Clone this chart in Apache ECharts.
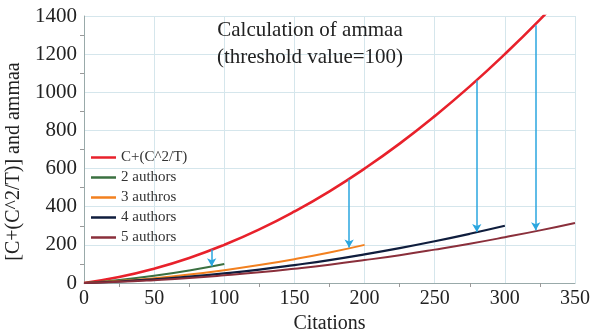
<!DOCTYPE html>
<html><head><meta charset="utf-8">
<script src="https://cdn.jsdelivr.net/npm/echarts@6/dist/echarts.min.js"></script>
<style>html,body{margin:0;padding:0;background:#fff}#c{width:591px;height:336px}</style>
</head><body><div id="c"></div>
<script>
const citations = [0,25,50,75,100,125,150,175,200,225,250,275,300,325,350];
const totalC = [0,31,75,131,200,281,375,481,600,731,875,1031,1200,1381,1575];
const authors2 = [0,16,38,66,100];
const authors3 = [0,10,25,44,67,94,125,160,200];
const authors4 = [0,8,19,33,50,70,94,120,150,183,219,258,300];
const authors5 = [0,6,15,26,40,56,75,96,120,146,175,206,240,276,315];
const seriesNames = ['C+(C^2/T)','2 authors','3 authros','4 authors','5 authors'];
const arrowX = [91,189,280,322];
const arrowFrom = [176,543,1062,1352];
const arrowTo = [88,186,268,276];
const xTicks = [0,50,100,150,200,250,300,350];
const yTicks = [0,200,400,600,800,1000,1200,1400];

const serif = '"Liberation Serif","DejaVu Serif",serif';
const colors = ['#e8212b','#3b7040','#f2801f','#0f1d3d','#8a2f3b'];
const widths = [2.6,2,2,2.2,2];
const sets = [totalC,authors2,authors3,authors4,authors5];

const series = sets.map((vals,i)=>({
  name: seriesNames[i], type:'line', symbol:'none', smooth:true, clip:true,
  data: vals.map((v,j)=>[citations[j],v]),
  lineStyle:{color:colors[i],width:widths[i]}, itemStyle:{color:colors[i]}, z:3
}));
series.push({
  type:'line', data:[], silent:true,
  markLine:{
    silent:true, symbol:['none','arrow'], symbolSize:[7,8],
    label:{show:false},
    lineStyle:{color:'#2aa6df',width:1.5,type:'solid'},
    data: arrowX.map((x,i)=>[{coord:[x,arrowFrom[i]]},{coord:[x,arrowTo[i]]}])
  }
});

const chart = echarts.init(document.getElementById('c'));
chart.setOption({
  animation:false,
  backgroundColor:'#fff',
  title:{
    text:'Calculation of ammaa\n(threshold value=100)',
    left:310, top:17, textAlign:'center', padding:0,
    textStyle:{fontFamily:serif,fontSize:21,fontWeight:'normal',color:'#222',lineHeight:27}
  },
  legend:{
    data:seriesNames.map((n,i)=>({name:n,itemStyle:{color:colors[i]}})),
    orient:'vertical', left:86, top:145,
    icon:'rect', itemWidth:25, itemHeight:2.5, itemGap:5,
    textStyle:{fontFamily:serif,fontSize:15,color:'#333'}
  },
  grid:{left:84,right:16,top:16,bottom:53,outerBoundsMode:'none',containLabel:false},
  xAxis:{
    type:'value', min:0, max:350, interval:50,
    name:'Citations', nameLocation:'middle', nameGap:31,
    nameTextStyle:{fontFamily:serif,fontSize:20,color:'#222'},
    axisLine:{show:true,lineStyle:{color:'#9aa'}},
    axisTick:{show:false},
    minorTick:{show:true,splitNumber:2,length:4,lineStyle:{color:'#999'}},
    axisLabel:{fontFamily:serif,fontSize:20,color:'#222',margin:6,
      formatter:v=>xTicks.includes(v)?String(v):''},
    splitLine:{show:true,lineStyle:{color:'#d5e6ec',width:1}}
  },
  yAxis:{
    type:'value', min:0, max:1400, interval:200,
    name:'[C+(C^2/T)] and ammaa', nameLocation:'middle', nameGap:46,
    nameTextStyle:{fontFamily:serif,fontSize:20,color:'#222',padding:[0,24,0,0]},
    axisLine:{show:true,lineStyle:{color:'#9aa'}},
    axisTick:{show:false},
    minorTick:{show:true,splitNumber:2,length:4,lineStyle:{color:'#999'}},
    axisLabel:{fontFamily:serif,fontSize:21,color:'#222',margin:7,
      formatter:v=>yTicks.includes(v)?String(v):''},
    splitLine:{show:true,lineStyle:{color:'#d5e6ec',width:1}}
  },
  series:series
});
</script></body></html>
